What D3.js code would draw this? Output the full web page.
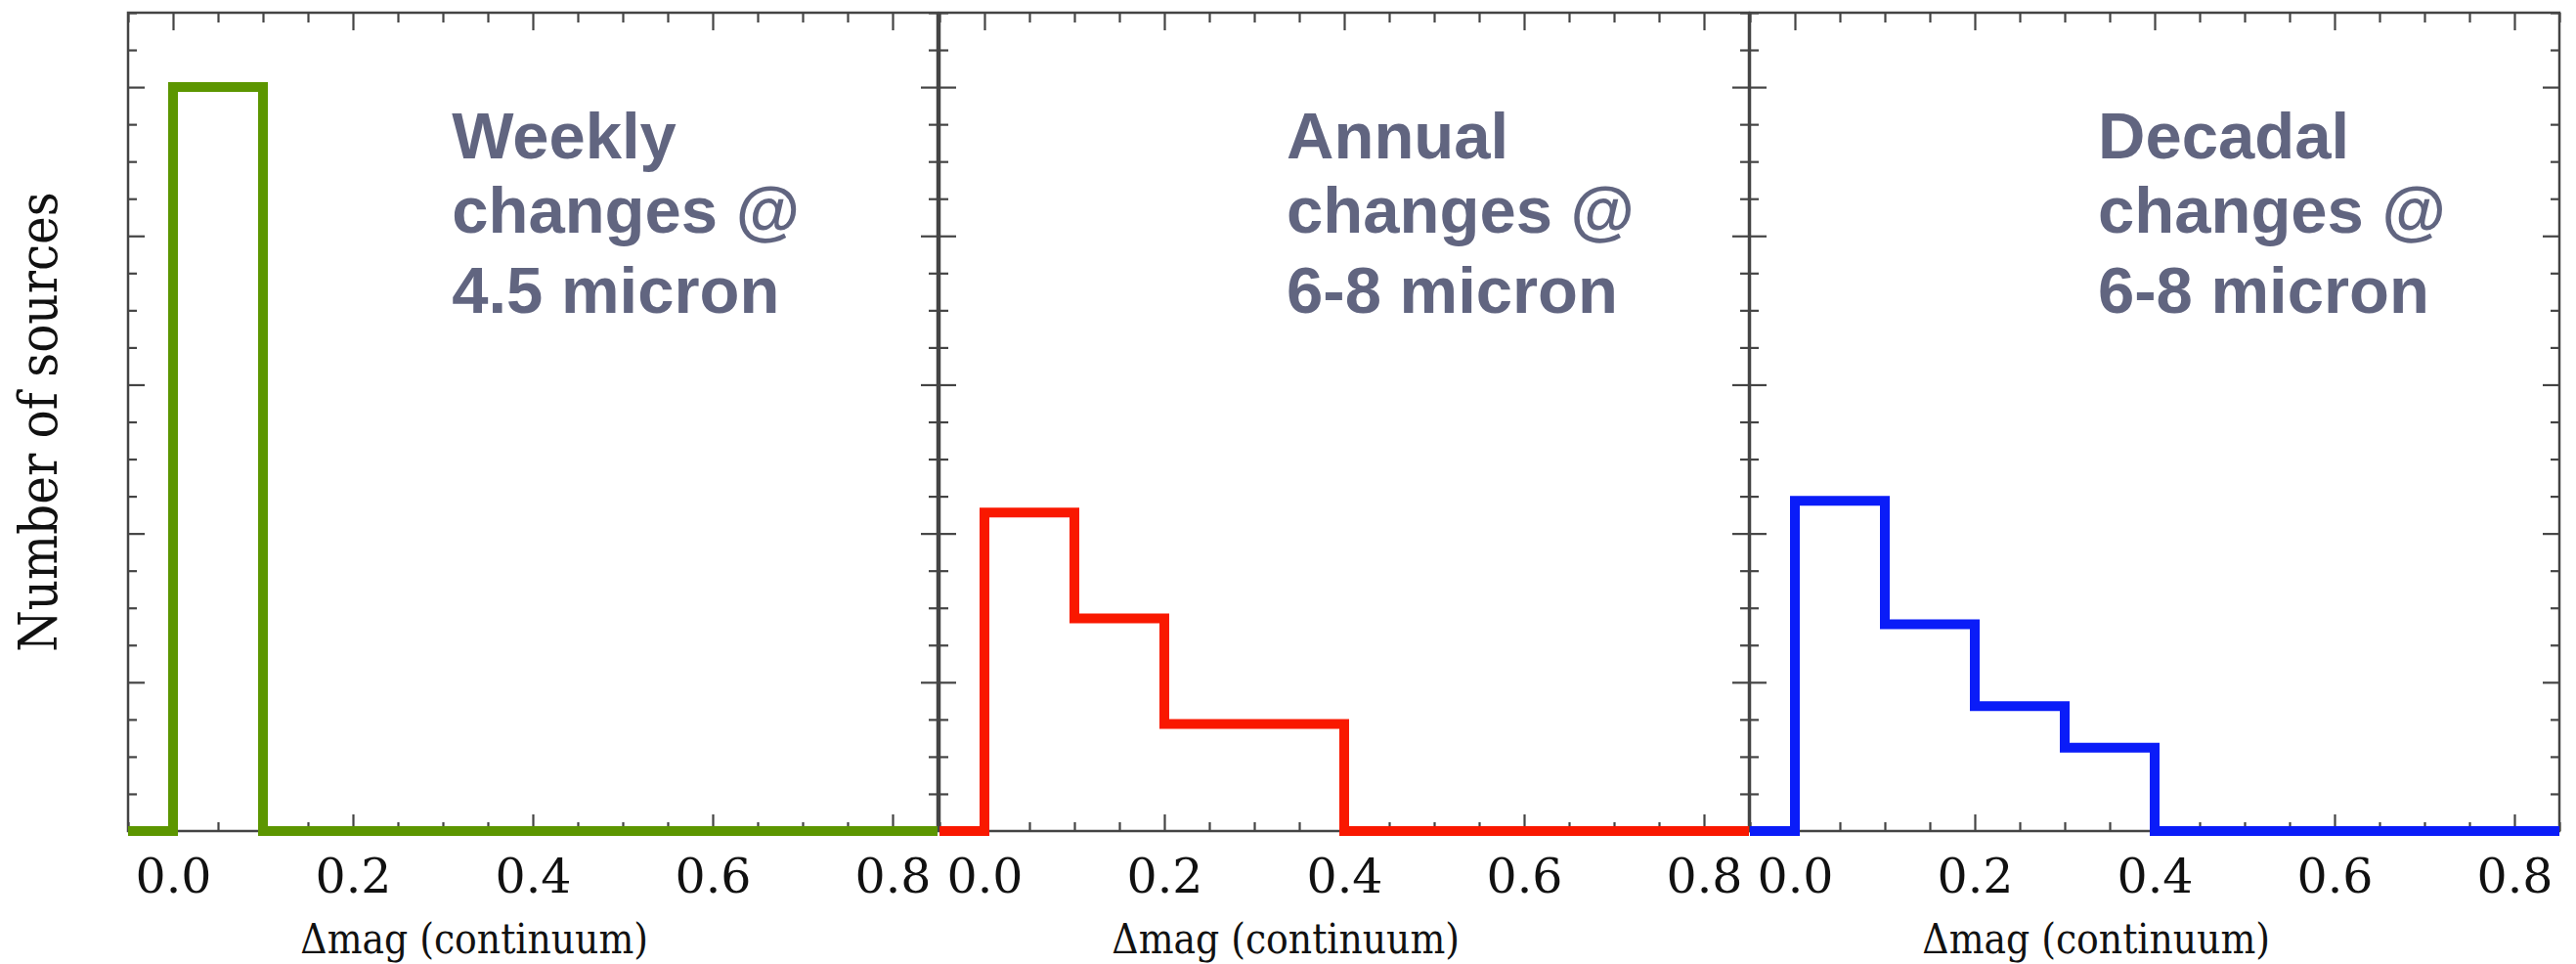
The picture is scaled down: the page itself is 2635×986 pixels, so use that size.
<!DOCTYPE html>
<html>
<head>
<meta charset="utf-8">
<script src="https://cdn.jsdelivr.net/npm/d3@7"></script>
<style>
  html, body { margin: 0; padding: 0; background: #ffffff; }
  svg { display: block; }
  .serif { font-family: "DejaVu Serif", serif; font-stretch: condensed; fill: #111; }
  .serif-wide { font-family: "DejaVu Serif", serif; fill: #111; }
  .note { font-family: "Liberation Sans", Arial, sans-serif; font-weight: bold; fill: #616580; }
</style>
</head>
<body>
<svg id="chart" width="2635" height="986"></svg>
<script>
// ---------------- data ----------------
const binEdges = [0.0, 0.1, 0.2, 0.3, 0.4];            // Δmag bin edges (left edges + last right edge)
const weeklyCounts = [5.00, 0.00, 0.00, 0.00];          // in major-tick units (y axis unlabeled)
const annualCounts = [2.14, 1.43, 0.72, 0.72];
const decadalCounts = [2.22, 1.39, 0.84, 0.56];
const xTickLabels = [0.0, 0.2, 0.4, 0.6, 0.8];
const panelNames = ["weekly", "annual", "decadal"];
const panelNotes = [
  ["Weekly", "changes @", "4.5 micron"],
  ["Annual", "changes @", "6-8 micron"],
  ["Decadal", "changes @", "6-8 micron"]
];
const xTitle = "Δmag (continuum)";
const yTitle = "Number of sources";

// ---------------- layout ----------------
const W = 2635, H = 986;
const panelLefts = [131, 961, 1790];
const panelW = 828;
const plotTop = 13, plotBottom = 850;
const xDomain = [-0.05, 0.85];
const yDomain = [0, 5.5];
const colors = ["#5c9600", "#f91800", "#0a1cf8"];
const noteX = [0.31, 0.336, 0.337];
const noteBaselines = [162, 238, 320];
const series = [weeklyCounts, annualCounts, decadalCounts];

const svg = d3.select("#chart");
const y = d3.scaleLinear().domain(yDomain).range([plotBottom, plotTop]);

const majorX = xTickLabels;
const minorX = d3.range(-0.05, 0.851, 0.05).map(v => +v.toFixed(2)).filter(v => !majorX.some(m => Math.abs(m - v) < 1e-6));
const majorY = d3.range(0, 6, 1);
const minorY = d3.range(0, 5.51, 0.25).filter(v => Math.abs(v - Math.round(v)) > 1e-6);

const axisColor = "#444";

panelNames.forEach((name, i) => {
  const x = d3.scaleLinear().domain(xDomain).range([panelLefts[i], panelLefts[i] + panelW]);
  const g = svg.append("g").attr("class", "panel-" + name);

  // bottom axis: major with labels
  const bMaj = g.append("g").attr("transform", `translate(0,${plotBottom})`)
    .call(d3.axisBottom(x).tickValues(majorX).tickSizeInner(-17).tickSizeOuter(0).tickPadding(28).tickFormat(d3.format(".1f")));
  const bMin = g.append("g").attr("transform", `translate(0,${plotBottom})`)
    .call(d3.axisBottom(x).tickValues(minorX).tickSizeInner(-9).tickSizeOuter(0).tickFormat(""));
  // top axis
  const tMaj = g.append("g").attr("transform", `translate(0,${plotTop})`)
    .call(d3.axisTop(x).tickValues(majorX).tickSizeInner(-18).tickSizeOuter(0).tickFormat(""));
  const tMin = g.append("g").attr("transform", `translate(0,${plotTop})`)
    .call(d3.axisTop(x).tickValues(minorX).tickSizeInner(-10).tickSizeOuter(0).tickFormat(""));
  // left axis
  const lMaj = g.append("g").attr("transform", `translate(${panelLefts[i]},0)`)
    .call(d3.axisLeft(y).tickValues(majorY).tickSizeInner(-17).tickSizeOuter(0).tickFormat(""));
  const lMin = g.append("g").attr("transform", `translate(${panelLefts[i]},0)`)
    .call(d3.axisLeft(y).tickValues(minorY).tickSizeInner(-9).tickSizeOuter(0).tickFormat(""));
  // right axis
  const rMaj = g.append("g").attr("transform", `translate(${panelLefts[i] + panelW},0)`)
    .call(d3.axisRight(y).tickValues(majorY).tickSizeInner(-17).tickSizeOuter(0).tickFormat(""));
  const rMin = g.append("g").attr("transform", `translate(${panelLefts[i] + panelW},0)`)
    .call(d3.axisRight(y).tickValues(minorY).tickSizeInner(-9).tickSizeOuter(0).tickFormat(""));

  [bMaj, bMin, tMaj, tMin, lMaj, lMin, rMaj, rMin].forEach(a => {
    a.select(".domain").remove();
    a.selectAll(".tick line").attr("stroke", axisColor).attr("stroke-width", 2.2);
  });
  bMaj.attr("font-family", null).attr("font-size", null);
  bMaj.selectAll(".tick text")
    .attr("class", "serif-wide")
    .attr("font-size", 49)
    .attr("fill", "#111");

  // frame
  g.append("rect")
    .attr("x", x(xDomain[0])).attr("y", y(yDomain[1]))
    .attr("width", x(xDomain[1]) - x(xDomain[0]))
    .attr("height", y(yDomain[0]) - y(yDomain[1]))
    .attr("fill", "none").attr("stroke", axisColor).attr("stroke-width", 2.5);

  // x title
  g.append("text").attr("class", "serif")
    .attr("x", x(0.335)).attr("y", 975)
    .attr("text-anchor", "middle").attr("font-size", 42)
    .text(xTitle);

  // notes
  const t = g.append("text").attr("class", "note").attr("font-size", 67);
  panelNotes[i].forEach((line, k) => {
    t.append("tspan").attr("x", x(noteX[i])).attr("y", noteBaselines[k]).text(line);
  });
});

// histograms (drawn after all axes so they sit on top)
panelNames.forEach((name, i) => {
  const x = d3.scaleLinear().domain(xDomain).range([panelLefts[i], panelLefts[i] + panelW]);
  const vals = series[i];
  const pts = [[xDomain[0], 0]];
  vals.forEach((v, k) => pts.push([binEdges[k], v]));
  pts.push([binEdges[binEdges.length - 1], 0]);
  pts.push([xDomain[1], 0]);
  const line = d3.line().x(d => x(d[0])).y(d => y(d[1])).curve(d3.curveStepAfter);
  svg.append("path")
    .attr("class", "hist-" + name)
    .attr("d", line(pts))
    .attr("fill", "none")
    .attr("stroke", colors[i])
    .attr("stroke-width", 10)
    .attr("stroke-linejoin", "miter");
});

// y title
svg.append("text").attr("class", "serif")
  .attr("transform", `translate(58,${(plotTop + plotBottom) / 2}) rotate(-90)`)
  .attr("text-anchor", "middle").attr("font-size", 54)
  .text(yTitle);
</script>
</body>
</html>
